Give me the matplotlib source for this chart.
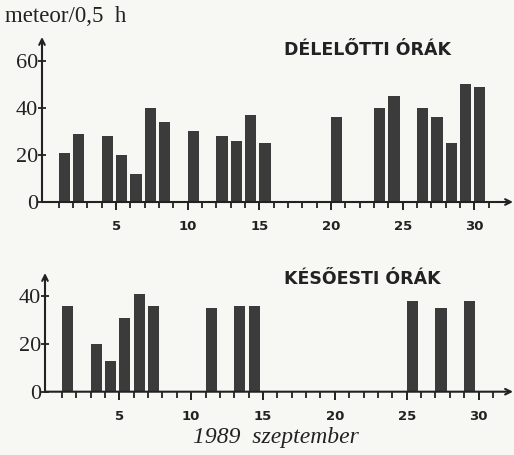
import matplotlib
matplotlib.use("Agg")
import matplotlib.pyplot as plt

# napok (1989 szeptember) es meteorszam / 0,5 ora
de_days = [1, 2, 4, 5, 6, 7, 8, 10, 12, 13, 14, 15, 20, 23, 24, 26, 27, 28, 29, 30]
de_vals = [21, 29, 28, 20, 12, 40, 34, 30, 28, 26, 37, 25, 36, 40, 45, 40, 36, 25, 50, 49]

es_days = [1, 3, 4, 5, 6, 7, 11, 13, 14, 25, 27, 29]
es_vals = [36, 20, 13, 31, 41, 36, 35, 36, 36, 38, 35, 38]

major_x = [5, 10, 15, 20, 25, 30]
top_yticks = [0, 20, 40, 60]
bot_yticks = [0, 20, 40]

bar_col = "#3b3b3b"
ink = "#222222"
bg = "#f7f7f3"
serif = "Liberation Serif"

fig = plt.figure(figsize=(5.14, 4.55), dpi=100, facecolor=bg)


def panel(rect, days, vals, yticks, ytop, xlim, title, tx, ty):
    ax = fig.add_axes(rect)
    ax.set_facecolor("none")
    ax.bar(days, vals, width=0.78, align="edge", color=bar_col, edgecolor="none")
    ax.set_xlim(*xlim)
    ax.set_ylim(0, ytop)
    for s in ax.spines.values():
        s.set_visible(False)
    # tengelyek nyillal
    for end in [(1, 0), (0, 1)]:
        ax.annotate("", xy=end, xytext=(0, 0), xycoords="axes fraction",
                    arrowprops=dict(arrowstyle="->", lw=1.5, color=ink,
                                    shrinkA=0, shrinkB=0), annotation_clip=False)
    ax.set_xticks(major_x)
    ax.set_xticks(range(1, 32), minor=True)
    ax.set_xticklabels([str(v) for v in major_x], fontweight="bold",
                       fontsize=9.5, family="DejaVu Sans", color=ink)
    ax.tick_params(axis="x", which="major", direction="out", length=6,
                   width=1.4, pad=7, color=ink)
    ax.tick_params(axis="x", which="minor", direction="out", length=4,
                   width=1.3, color=ink)
    ax.set_yticks(yticks)
    ax.set_yticklabels([str(v) for v in yticks], family=serif, fontsize=16,
                       color=ink)
    ax.tick_params(axis="y", direction="inout", length=6, width=1.3, pad=0,
                   color=ink)
    fig.text(tx, ty, title, fontweight="bold", fontsize=12.5,
             family="DejaVu Sans", ha="center", va="center", color=ink)
    return ax


panel([42 / 514, 1 - 202 / 455, 471 / 514, 165 / 455], de_days, de_vals,
      top_yticks, 70.2, (-0.17, 32.7), "DÉLELŐTTI ÓRÁK", 368 / 514, 1 - 50 / 455)
panel([45 / 514, 1 - 391.7 / 455, 468 / 514, 118.7 / 455], es_days, es_vals,
      bot_yticks, 49.6, (-0.17, 32.4), "KÉSŐESTI ÓRÁK", 362 / 514, 1 - 279 / 455)

fig.text(5 / 514, 1 - 17 / 455, "meteor/0,5  h", family=serif, fontsize=16.5,
         ha="left", va="center", color=ink)
fig.text(276 / 514, 1 - 438 / 455, "1989  szeptember", family=serif,
         style="italic", fontsize=17, ha="center", va="center", color=ink)

fig.savefig("out.png", dpi=100, facecolor=bg)
